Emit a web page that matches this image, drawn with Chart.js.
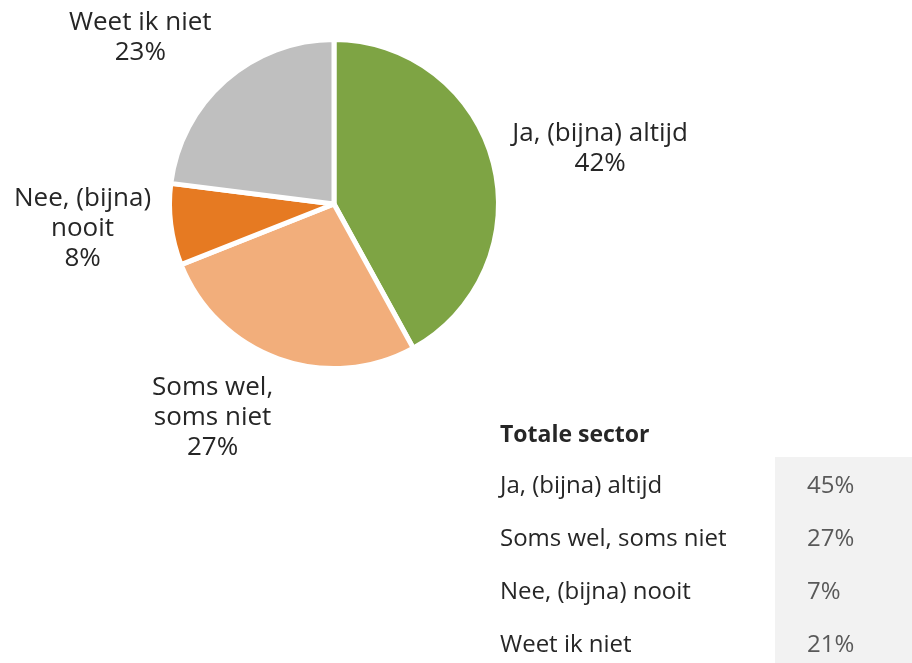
<!DOCTYPE html>
<html>
<head>
<meta charset="utf-8">
<script src="https://cdn.jsdelivr.net/npm/chart.js@4/dist/chart.umd.min.js"></script>
<style>
  body { margin: 0; background: #fff; font-family: "Open Sans", sans-serif; }
  #wrap { position: relative; width: 912px; height: 663px; }
  #chart-aandeel { position: absolute; left: 0; top: 0; }
  #totaal { position: absolute; left: 500px; top: 410px; width: 412px; color: #262626; font-size: 24px; }
  #totaal .kop { font-weight: bold; font-size: 23px; height: 47px; line-height: 47px; }
  #totaal .rij { position: relative; height: 53px; line-height: 53px; }
  #totaal .waarde { position: absolute; left: 275px; top: 0; width: 137px; height: 53px; padding-left: 32px; box-sizing: border-box; background: #f2f2f2; color: #595959; }
</style>
</head>
<body>
<div id="wrap">
  <canvas id="chart-aandeel" width="912" height="663"></canvas>
  <div id="totaal"></div>
</div>
<script>
const categorieen = ["Ja, (bijna) altijd", "Soms wel, soms niet", "Nee, (bijna) nooit", "Weet ik niet"];
const aandeel = [42, 27, 8, 23];
const totale_sector = [45, 27, 7, 21];
const kleuren = ["#7ea444", "#f2ae7b", "#e67a22", "#bfbfbf"];

// extra verschuiving van de labels, zoals Excel ze legt
const label_schuif = [[-14, 17], [-38, -18], [14, -9], [-36, 12]];

// tabel "Totale sector"
const totaal = document.getElementById("totaal");
totaal.innerHTML = '<div class="kop">Totale sector</div>' + categorieen.map((c, i) =>
    '<div class="rij">' + c + '<span class="waarde">' + totale_sector[i] + '%</span></div>'
).join("");

function breekTekst(ctx, tekst, max) {
    const woorden = tekst.split(" ");
    const regels = [];
    let regel = "";
    woorden.forEach(w => {
        const test = regel ? regel + " " + w : w;
        if (regel && ctx.measureText(test).width > max) {
            regels.push(regel);
            regel = w;
        } else {
            regel = test;
        }
    });
    regels.push(regel);
    return regels;
}

// labels buiten de taart: naam + percentage
const buitenLabels = {
    id: "buitenLabels",
    afterDraw(chart) {
        const ctx = chart.ctx;
        const meta = chart.getDatasetMeta(0);
        ctx.save();
        ctx.font = '26px "Open Sans"';
        ctx.fillStyle = "#262626";
        ctx.textAlign = "center";
        ctx.textBaseline = "middle";
        const regelHoogte = 30;
        meta.data.forEach((arc, i) => {
            const p = arc.getProps(["x", "y", "startAngle", "endAngle", "outerRadius"], true);
            const hoek = (p.startAngle + p.endAngle) / 2;
            const dx = Math.cos(hoek), dy = Math.sin(hoek);
            const regels = breekTekst(ctx, chart.data.labels[i], 188);
            regels.push(chart.data.datasets[0].data[i] + "%");
            const halfB = Math.max(...regels.map(r => ctx.measureText(r).width)) / 2;
            const halfH = regels.length * regelHoogte / 2;
            const t = Math.min(Math.abs(dx) > 1e-6 ? halfB / Math.abs(dx) : 1e9,
                               Math.abs(dy) > 1e-6 ? halfH / Math.abs(dy) : 1e9);
            const afstand = p.outerRadius + 34 + t;
            const cx = p.x + dx * afstand + label_schuif[i][0];
            const cy = p.y + dy * afstand + label_schuif[i][1];
            regels.forEach((r, j) => {
                ctx.fillText(r, cx, cy - halfH + regelHoogte * (j + 0.5));
            });
        });
        ctx.restore();
    }
};

new Chart(document.getElementById("chart-aandeel"), {
    type: "pie",
    data: {
        labels: categorieen,
        datasets: [{
            data: aandeel,
            backgroundColor: kleuren,
            borderColor: "#ffffff",
            borderWidth: 5
        }]
    },
    options: {
        responsive: false,
        animation: false,
        layout: {
            padding: { left: 167, top: 37, right: 411, bottom: 292 }
        },
        plugins: {
            legend: { display: false },
            tooltip: { enabled: false }
        }
    },
    plugins: [buitenLabels]
});
</script>
</body>
</html>
